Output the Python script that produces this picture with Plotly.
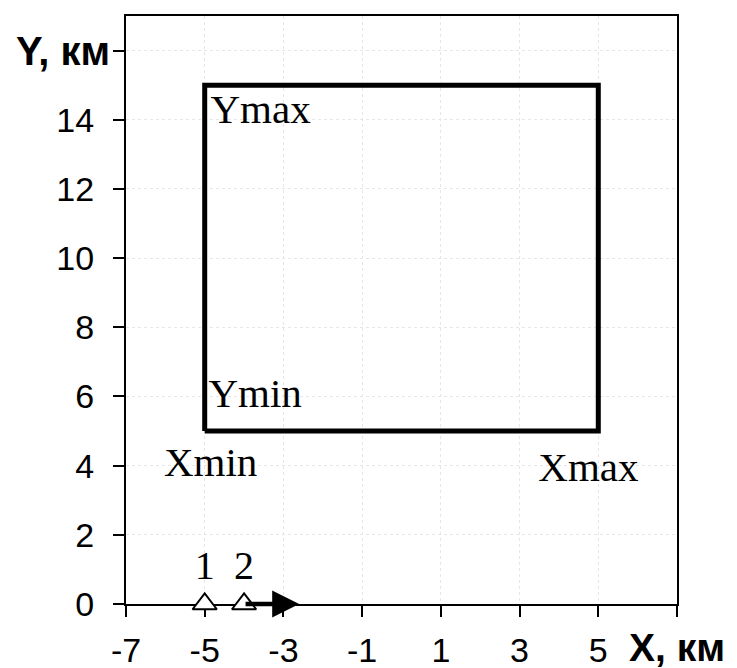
import plotly.graph_objects as go

# ---- data ----
x_tickvals = [-7, -5, -3, -1, 1, 3, 5, 7]
x_ticktext = ["-7", "-5", "-3", "-1", "1", "3", "5", ""]
y_tickvals = [0, 2, 4, 6, 8, 10, 12, 14, 16]
y_ticktext = ["0", "2", "4", "6", "8", "10", "12", "14", ""]

rect_x = [-5, 5, 5, -5, -5]
rect_y = [5, 5, 15, 15, 5]

station_x = [-5, -4]
station_y = [0, 0]
station_labels = ["1", "2"]
station_label_y = [1.0, 1.0]

label_text = ["Ymax", "Ymin", "Xmin", "Xmax"]
label_x = [-3.58, -3.72, -4.85, 4.75]
label_y = [14.2, 6.0, 4.0, 3.85]

arrow_start = [-4.0, 0.0]
arrow_end = [-2.6, 0.0]

x_title = "<b>X, км</b>"
y_title = "<b>Y, км</b>"

serif = "Liberation Serif, Times New Roman, serif"
sans = "Liberation Sans, Arial, sans-serif"

fig = go.Figure()

fig.add_trace(go.Scatter(x=rect_x, y=rect_y, mode="lines",
                         line=dict(color="black", width=5),
                         hoverinfo="skip", showlegend=False))

fig.add_annotation(x=arrow_end[0], y=arrow_end[1], ax=arrow_start[0], ay=arrow_start[1],
                   xref="x", yref="y", axref="x", ayref="y",
                   showarrow=True, arrowhead=2, arrowsize=1.2, arrowwidth=4.5,
                   arrowcolor="black", text="", standoff=0, startstandoff=0)

fig.add_trace(go.Scatter(x=station_x, y=station_y, mode="markers",
                         marker=dict(symbol="triangle-up", size=21, color="white",
                                     line=dict(color="black", width=2)),
                         cliponaxis=False, hoverinfo="skip", showlegend=False))

fig.add_trace(go.Scatter(x=station_x, y=station_label_y, mode="text",
                         text=station_labels,
                         textfont=dict(family=serif, size=40, color="black"),
                         hoverinfo="skip", showlegend=False))

fig.add_trace(go.Scatter(x=label_x, y=label_y, mode="text", text=label_text,
                         textfont=dict(family=serif, size=41, color="black"),
                         hoverinfo="skip", showlegend=False))

axis_common = dict(showline=True, linecolor="black", linewidth=2, mirror=True,
                   ticks="outside", ticklen=11, tickwidth=2, tickcolor="black",
                   showgrid=True, gridcolor="#e6e6e6", gridwidth=1, griddash="dot",
                   zeroline=False, layer="below traces",
                   tickfont=dict(family=sans, size=34, color="black"))

fig.update_xaxes(range=[-7, 7], tickmode="array", tickvals=x_tickvals,
                 ticktext=x_ticktext, ticklabelstandoff=4, **axis_common)
fig.update_yaxes(range=[0, 17], tickmode="array", tickvals=y_tickvals,
                 ticktext=y_ticktext, ticklabelstandoff=12, **axis_common)

fig.add_annotation(x=7, y=0, xref="x", yref="paper", text=x_title, showarrow=False,
                   xanchor="center", yanchor="top", yshift=-20,
                   font=dict(family=sans, size=39, color="black"))
fig.add_annotation(x=0, y=16, xref="paper", yref="y", text=y_title, showarrow=False,
                   xanchor="right", yanchor="middle", xshift=-14,
                   font=dict(family=sans, size=40, color="black"))

fig.update_layout(width=737, height=668, autosize=False,
                  margin=dict(l=118, r=68, t=6, b=72),
                  plot_bgcolor="white", paper_bgcolor="white")

fig.write_html("out.html")
